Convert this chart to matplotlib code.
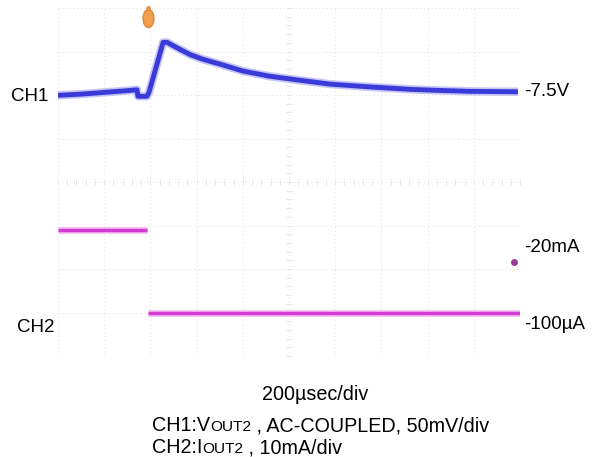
import matplotlib.pyplot as plt
import matplotlib.transforms as mtransforms
import matplotlib.path as mpath
import numpy as np

plt.rcParams['font.family'] = ['Liberation Sans', 'DejaVu Sans']

# scope settings
time_per_div = 200      # usec/div
ch1_per_div = 50        # mV/div
ch2_per_div = 10        # mA/div
ch1_ref_div = 5.97      # -7.5V reference level (divisions from bottom)
ch2_ref_div = 1.0       # -100uA reference level

# CH1: Vout2 (AC coupled), mV relative to -7.5V
ch1_t = [0, 100, 200, 300, 342, 346, 385, 394, 455, 472, 528, 571, 628,
         701, 801, 918, 1048, 1177, 1338, 1524, 1623, 1784, 1991]
ch1_mv = [1.1, 2.5, 4.5, 6.5, 7.5, 0, 0, 4.6, 62, 62, 54, 48, 42.5,
          37, 29, 23, 18.4, 14, 11, 8, 7, 5.7, 5.2]

# CH2: Iout2, mA
ch2_t = [0, 385, np.nan, 390, 2000]
ch2_ma = [19, 19, np.nan, 0, 0]

trig_t = 390
trig_div = 7.77
dot_t, dot_div = 1974, 2.16

fig = plt.figure(figsize=(5.98, 4.57), dpi=100)
ax = fig.add_axes([58 / 598, 1 - 356 / 457, 462 / 598, 348 / 457])
ax.set_xlim(0, 10 * time_per_div)
ax.set_ylim(0, 8)
for s in ax.spines.values():
    s.set_visible(False)
ax.set_xticks([])
ax.set_yticks([])

# faint graticule
for i in range(11):
    ax.axvline(i * time_per_div, color='#e0e0e0', lw=0.7, ls=(0, (1, 3)), zorder=0)
for j in range(9):
    ax.axhline(j, color='#e0e0e0', lw=0.7, ls=(0, (1, 3)), zorder=0)
minor_x = np.arange(0, 10 * time_per_div + 1, time_per_div / 5)
minor_y = np.arange(0, 8.01, 0.2)
ax.plot(minor_x, np.full_like(minor_x, 4.0), ls='none', marker='|',
        ms=4, color='#e8e8e8', mew=0.7, zorder=0)
ax.plot(np.full_like(minor_y, 5 * time_per_div), minor_y, ls='none', marker='_',
        ms=4, color='#e8e8e8', mew=0.7, zorder=0)

ch1_div = [ch1_ref_div + v / ch1_per_div for v in ch1_mv]
ch2_div = [ch2_ref_div + v / ch2_per_div for v in ch2_ma]

ax.plot(ch1_t, ch1_div, color='#8c8cf0', lw=6, alpha=0.5, solid_capstyle='butt')
ax.plot(ch1_t, ch1_div, color='#3a3ad8', lw=3.5, solid_capstyle='butt')
ax.plot(ch2_t, ch2_div, color='#f09af0', lw=5, alpha=0.6, solid_capstyle='butt')
ax.plot(ch2_t, ch2_div, color='#d23cd2', lw=2.5, solid_capstyle='butt')

# trigger marker: tall orange blob
circ = mpath.Path.unit_circle()
blob = mpath.Path(circ.vertices * [0.6, 1.0], circ.codes)
ax.plot([trig_t], [trig_div], marker=blob, ms=13, color='#f0a050', mec='#e08a30',
        clip_on=False)
ax.plot([trig_t], [8.0], marker='o', ms=2.5, color='#e09050', clip_on=False)
ax.plot([dot_t], [dot_div], marker='o', ms=4, color='#9a3c9a')

fs = 13.5
fs_b = 14.2
right = mtransforms.blended_transform_factory(ax.transAxes, ax.transData)
ax.text(1.008, ch1_ref_div + 0.1, '-7.5V', transform=right, fontsize=fs,
        va='center', ha='left')
ax.text(1.008, 2.5, '-20mA', transform=right, fontsize=fs,
        va='center', ha='left')
ax.text(1.008, 0.72, '-100µA', transform=right, fontsize=fs,
        va='center', ha='left')
ax.text(-0.02, ch1_ref_div, 'CH1', transform=right, fontsize=fs,
        va='center', ha='right')
ax.text(-0.007, 0.65, 'CH2', transform=right, fontsize=fs,
        va='center', ha='right')

fig.text(315 / 598, 1 - 395 / 457, '200µsec/div', fontsize=fs_b,
         ha='center', va='center')


def line_with_sub(x, y, parts):
    # draw text pieces one after another, small caps pieces smaller
    fig.canvas.draw()
    r = fig.canvas.get_renderer()
    for txt, size in parts:
        t = fig.text(x, y, txt, fontsize=size, ha='left', va='baseline')
        bb = t.get_window_extent(renderer=r)
        x += bb.width / fig.bbox.width


line_with_sub(152 / 598, 1 - 431 / 457,
              [('CH1:V', fs_b), ('OUT2', fs_b * 0.78), (' , AC-COUPLED, 50mV/div', fs_b)])
line_with_sub(152 / 598, 1 - 453 / 457,
              [('CH2:I', fs_b), ('OUT2', fs_b * 0.78), (' , 10mA/div', fs_b)])

fig.savefig('out.png', dpi=100)
